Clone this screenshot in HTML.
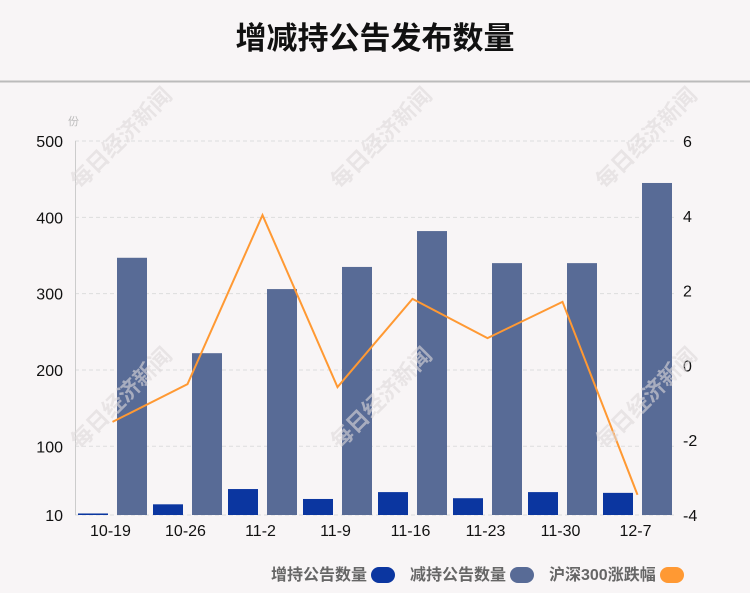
<!DOCTYPE html>
<html><head><meta charset="utf-8"><style>
body{margin:0;background:#f8f5f6;}
svg{display:block;font-family:"Liberation Sans","Noto Sans CJK SC",sans-serif;}
</style></head><body>
<svg id="chart" width="750" height="593" viewBox="0 0 750 593">
<rect width="750" height="593" fill="#f8f5f6"/>
<text x="375" y="49" text-anchor="middle" font-size="31" font-weight="bold" fill="#111">增减持公告发布数量</text>
<line x1="0" y1="81.5" x2="750" y2="81.5" stroke="#bbb" stroke-width="2"/>
<text x="68" y="125" font-size="11" fill="#bbb">份</text>
<g id="grid"></g><g id="bars"></g><g id="line"></g><g id="axes"></g>
<g fill="#ddd8da" fill-opacity="0.6" font-size="22" font-weight="bold">
<text transform="translate(80,190) rotate(-45)">每日经济新闻</text>
<text transform="translate(340,190) rotate(-45)">每日经济新闻</text>
<text transform="translate(605,190) rotate(-45)">每日经济新闻</text>
<text transform="translate(80,450) rotate(-45)">每日经济新闻</text>
<text transform="translate(340,450) rotate(-45)">每日经济新闻</text>
<text transform="translate(605,450) rotate(-45)">每日经济新闻</text>
</g>
<g font-size="16" font-weight="bold" fill="#666">
<text x="271" y="580">增持公告数量</text>
<rect x="371" y="567" width="24" height="16" rx="8" fill="#0b36a0"/>
<text x="410" y="580">减持公告数量</text>
<rect x="510" y="567" width="24" height="16" rx="8" fill="#586b96"/>
<text x="549" y="580">沪深300涨跌幅</text>
<rect x="660" y="567" width="24" height="16" rx="8" fill="#ff9933"/>
</g>
</svg>
<script>
const categories=["10-19","10-26","11-2","11-9","11-16","11-23","11-30","12-7"];
const increaseCounts=[12,24,44,31,40,32,40,39];
const decreaseCounts=[347,222,306,335,382,340,340,445];
const indexChange=[-1.51,-0.5,4.02,-0.58,1.78,0.73,1.7,-3.46];
const leftTicks=[10,100,200,300,400,500];
const rightTicks=[-4,-2,0,2,4,6];
const NS="http://www.w3.org/2000/svg";
const X0=75,X1=675,YT=141,YB=515;
const gw=(X1-X0)/categories.length;
const yL=v=>YB-(v-10)/(500-10)*(YB-YT);
const yR=v=>YB-(v+4)/10*(YB-YT);
function mk(t,a,p){const e=document.createElementNS(NS,t);for(const k in a)e.setAttribute(k,a[k]);document.getElementById(p).appendChild(e);return e;}
leftTicks.forEach(v=>{
 const g=mk('line',{x1:X0,x2:X1,y1:yL(v),y2:yL(v),stroke:'#ddd','stroke-dasharray':'4,3'},'grid');
 
 
 const t=mk('text',{x:63,y:yL(v)+6,'text-anchor':'end','font-size':16,fill:'#111'},'axes');t.textContent=v;
 
 
});
rightTicks.forEach(v=>{
 const t=mk('text',{x:683,y:yR(v)+6,'font-size':16,fill:'#111'},'axes');t.textContent=v;
 
 
});
const ax=mk('line',{x1:X0+0.5,x2:X0+0.5,y1:YT,y2:YB,stroke:'#ccc'},'axes');


categories.forEach((c,i)=>{
 const gx=X0+i*gw;
 const b1=mk('rect',{x:gx+3,y:yL(increaseCounts[i]),width:30,height:YB-yL(increaseCounts[i]),fill:'#0b36a0'},'bars');
 
 
 const b2=mk('rect',{x:gx+42,y:yL(decreaseCounts[i]),width:30,height:YB-yL(decreaseCounts[i]),fill:'#586b96'},'bars');
 
 
 const t=mk('text',{x:gx+gw/2-2,y:536,'text-anchor':'middle','font-size':16,fill:'#111'},'axes');t.textContent=c;
 
 
});
const pts=indexChange.map((v,i)=>(X0+i*gw+gw/2)+','+yR(v)).join(' ');
const pl=mk('polyline',{points:pts,fill:'none',stroke:'#ff9933','stroke-width':2},'line');


</script>
</body></html>
